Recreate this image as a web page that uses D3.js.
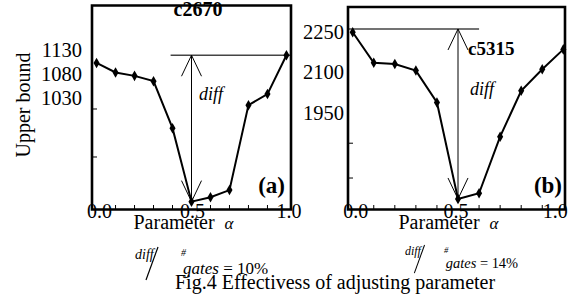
<!DOCTYPE html>
<html>
<head>
<meta charset="utf-8">
<script src="https://cdn.jsdelivr.net/npm/d3@7"></script>
<style>
  body { margin: 0; background: #fff; }
  svg { display: block; font-family: "Liberation Serif", "Times New Roman", serif; }
</style>
</head>
<body>
<svg id="chart" width="572" height="298"></svg>
<script>
// parameter alpha on the x axis
const alpha = [0, 0.1, 0.2, 0.3, 0.4, 0.5, 0.6, 0.7, 0.8, 0.9, 1.0];
const xTickLabels = [0, 0.5, 1];
const xMinorTicks = [0.1, 0.2, 0.3, 0.4, 0.6, 0.7, 0.8, 0.9];

// upper bound per circuit
const c2670 = [1096, 1076, 1069, 1058, 960, 807, 816, 831, 1008, 1031, 1112];
const c5315 = [2251, 2139, 2134, 2110, 1993, 1638, 1659, 1867, 2036, 2115, 2188];

const yLabelsA = [1130, 1080, 1030];
const yTicksA = [900, 1000];
const yLabelsB = [2250, 2100, 1950];
const yTicksB = [1715, 1843];

// top of the diff arrow
const diffTopA = 1112;
const diffTopB = 2263;

const svg = d3.select("#chart");

const panels = [
  {
    name: "c2670", tag: "(a)", values: c2670, yLabels: yLabelsA, yTicks: yTicksA, diffTop: diffTopA,
    left: 92, right: 291, top: 5.5, bottom: 209.5,
    xDomain: [-0.024, 1.024], yDomain: [790.6, 1215.6],
    refLine: [0.39, 1.024], labelDx: [3, 1, 2.5],
    titlePos: [198, 16], titleSize: 20, diffPos: [199, 100], tagPos: [285, 193]
  },
  {
    name: "c5315", tag: "(b)", values: c5315, yLabels: yLabelsB, yTicks: yTicksB, diffTop: diffTopB,
    left: 348, right: 565, top: 7, bottom: 209.5,
    xDomain: [-0.0223, 1.008], yDomain: [1599.3, 2343.8],
    refLine: [-0.0223, 0.6], labelDx: [3, -2, -8],
    titlePos: [468, 55], titleSize: 19, diffPos: [470, 95], tagPos: [562, 193]
  }
];

panels.forEach((p) => drawPanel(p));

function drawPanel(p) {
  const x = d3.scaleLinear().domain(p.xDomain).range([p.left, p.right]);
  const y = d3.scaleLinear().domain(p.yDomain).range([p.bottom, p.top]);
  const g = svg.append("g");

  // minor ticks along the bottom, pointing inward
  g.selectAll(".xt")
    .data(xMinorTicks)
    .enter()
    .append("line")
    .attr("x1", (d) => x(d)).attr("x2", (d) => x(d))
    .attr("y1", p.bottom).attr("y2", p.bottom - 4.5)
    .attr("stroke", "#000").attr("stroke-width", 1);

  g.selectAll(".yt")
    .data(p.yTicks)
    .enter()
    .append("line")
    .attr("x1", p.left).attr("x2", p.left + 5)
    .attr("y1", (d) => y(d)).attr("y2", (d) => y(d))
    .attr("stroke", "#000").attr("stroke-width", 1);

  // diff reference line (grey)
  g.append("line")
    .attr("x1", x(p.refLine[0])).attr("x2", x(p.refLine[1]))
    .attr("y1", y(p.diffTop)).attr("y2", y(p.diffTop))
    .attr("stroke", "#444").attr("stroke-width", 1.6);

  // diff arrow from the reference line down to the minimum
  const minIdx = d3.minIndex(p.values);
  const ax = x(alpha[minIdx]);
  const yTop = y(p.diffTop);
  const yBot = y(p.values[minIdx]);
  g.append("line")
    .attr("x1", ax).attr("x2", ax).attr("y1", yTop).attr("y2", yBot)
    .attr("stroke", "#000").attr("stroke-width", 1);
  const arm = 21, half = 10;
  g.append("path")
    .attr("d", `M${ax - half},${yTop + arm}L${ax},${yTop}L${ax + half},${yTop + arm}`)
    .attr("fill", "none").attr("stroke", "#000").attr("stroke-width", 1);
  g.append("path")
    .attr("d", `M${ax - half},${yBot - arm}L${ax},${yBot}L${ax + half},${yBot - arm}`)
    .attr("fill", "none").attr("stroke", "#000").attr("stroke-width", 1);

  // series line + diamond markers
  const line = d3.line().x((d, i) => x(alpha[i])).y((d) => y(d));
  g.append("path")
    .attr("d", line(p.values))
    .attr("fill", "none").attr("stroke", "#000").attr("stroke-width", 2);
  g.selectAll(".pt")
    .data(p.values)
    .enter()
    .append("path")
    .attr("d", d3.symbol(d3.symbolDiamond, 32))
    .attr("transform", (d, i) => `translate(${x(alpha[i])},${y(d)})`)
    .attr("fill", "#000");

  // frame
  g.append("path")
    .attr("d", `M${p.left},${p.bottom}V${p.top}H${p.right}V${p.bottom}Z`)
    .attr("fill", "none").attr("stroke", "#000").attr("stroke-width", 2.6);

  // tick labels
  g.selectAll(".xl")
    .data(xTickLabels)
    .enter()
    .append("text")
    .attr("x", (d, i) => x(d) + p.labelDx[i])
    .attr("y", 218)
    .attr("text-anchor", "middle")
    .attr("font-size", 20)
    .text((d) => d3.format(".1f")(d));

  g.selectAll(".yl")
    .data(p.yLabels)
    .enter()
    .append("text")
    .attr("x", p.left - (p.name === "c2670" ? 10 : 4))
    .attr("y", (d) => y(d) + (p.name === "c2670" ? 10 : 6))
    .attr("text-anchor", "end")
    .attr("font-size", 20.5)
    .text((d) => d);

  // panel texts
  g.append("text")
    .attr("x", p.titlePos[0]).attr("y", p.titlePos[1])
    .attr("text-anchor", p.name === "c2670" ? "middle" : "start")
    .attr("font-size", p.titleSize).attr("font-weight", "bold")
    .text(p.name);
  g.append("text")
    .attr("x", p.diffPos[0]).attr("y", p.diffPos[1])
    .attr("font-size", 18).attr("font-style", "italic")
    .text("diff");
  g.append("text")
    .attr("x", p.tagPos[0]).attr("y", p.tagPos[1])
    .attr("text-anchor", "end")
    .attr("font-size", 23).attr("font-weight", "bold")
    .text(p.tag);

  const xl = g.append("text")
    .attr("x", (p.left + p.right) / 2 - 8)
    .attr("y", 229)
    .attr("text-anchor", "middle")
    .attr("font-size", 20);
  xl.append("tspan").text("Parameter");
  xl.append("tspan").attr("dx", 10).attr("font-style", "italic").attr("font-size", 17).text("α");
}

// y axis title
svg.append("text")
  .attr("transform", "translate(30,105) rotate(-90)")
  .attr("text-anchor", "middle")
  .attr("font-size", 20)
  .text("Upper bound");

// diff / #gates notes
function ratioNote(x0, yTop, scale, pct) {
  const g = svg.append("g").attr("transform", `translate(${x0},${yTop}) scale(${scale})`);
  g.append("text").attr("x", 0).attr("y", 12).attr("font-size", 14).attr("font-style", "italic").text("diff");
  g.append("line").attr("x1", 23).attr("y1", 0).attr("x2", 11).attr("y2", 33)
    .attr("stroke", "#000").attr("stroke-width", 1.2);
  g.append("text").attr("x", 46).attr("y", 9).attr("font-size", 10).attr("font-style", "italic").text("#");
  const t = g.append("text").attr("x", 48).attr("y", 27).attr("font-size", 17);
  t.append("tspan").attr("font-style", "italic").text("gates");
  t.append("tspan").text(" = " + pct);
}
ratioNote(135, 247, 1, "10%");
ratioNote(405, 245, 0.85, "14%");

svg.append("text")
  .attr("x", 175).attr("y", 289)
  .attr("font-size", 20)
  .text("Fig.4  Effectivess of adjusting parameter");
</script>
</body>
</html>
